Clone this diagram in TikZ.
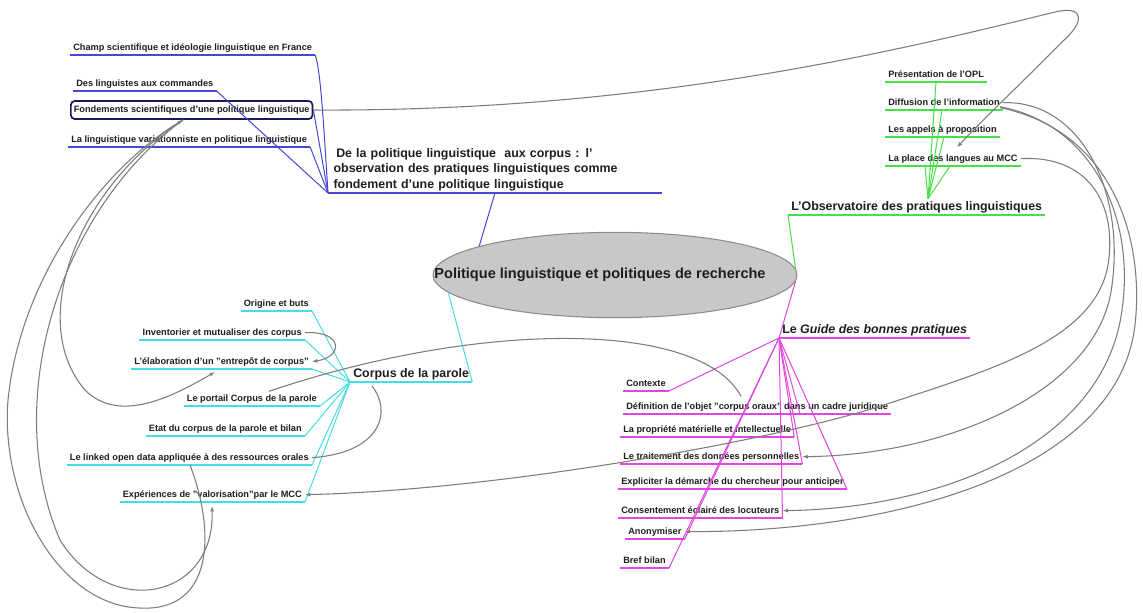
\documentclass[tikz,border=0pt]{standalone}
\usepackage{fontspec}
\setmainfont{Liberation Sans}
\usetikzlibrary{shapes.geometric,arrows.meta,calc}
\definecolor{cblue}{RGB}{70,70,215}
\definecolor{cgreen}{RGB}{70,225,70}
\definecolor{ccyan}{RGB}{70,220,225}
\definecolor{cmag}{RGB}{225,70,225}
\definecolor{clink}{RGB}{125,125,125}
\definecolor{ctxt}{RGB}{30,30,30}
\definecolor{cnavy}{RGB}{25,25,90}
\definecolor{cell}{RGB}{200,200,200}
\definecolor{cellb}{RGB}{140,140,140}
\begin{document}
\begin{tikzpicture}[x=0.75pt,y=-0.75pt,
  sub/.style={font=\fontsize{6.9}{8}\selectfont\bfseries, text=ctxt,
    inner xsep=2.25pt, inner ysep=1.9pt, text height=5.2pt, text depth=1.6pt,
    append after command={(\tikzlastnode.south west) edge[draw=#1, line width=1pt] (\tikzlastnode.south east)}},
  subbox/.style={font=\fontsize{6.9}{8}\selectfont\bfseries, text=ctxt,
    inner xsep=2.25pt, inner ysep=3.4pt, text height=5.2pt, text depth=1.6pt,
    draw=cnavy, line width=1.3pt, rounded corners=3pt},
  topic/.style={font=\fontsize{9.3}{11.6}\selectfont\bfseries, text=ctxt,
    inner xsep=2.25pt, inner ysep=1.4pt, text height=7pt, text depth=2pt,
    append after command={(\tikzlastnode.south west) edge[draw=#1, line width=1pt] (\tikzlastnode.south east)}},
  bline/.style={draw=cblue, line width=0.75pt},
  gline/.style={draw=cgreen, line width=0.75pt},
  cline/.style={draw=ccyan, line width=0.75pt},
  mline/.style={draw=cmag, line width=0.75pt},
  link/.style={draw=clink, line width=0.8pt},
  arr/.style={-{Latex[length=4pt,width=3pt]}},
]
\fill[white] (0,0) rectangle (1143,612);
\useasboundingbox (0,0) rectangle (1143,612);

% central topic
\node[ellipse, fill=cell, draw=cellb, line width=0.8pt, minimum width=273pt, minimum height=64pt,
  inner sep=0pt, font=\fontsize{10.9}{13}\selectfont\bfseries, text=ctxt] (root) at (615,275)
  {\makebox[0pt][c]{\hspace*{-22.5pt}Politique linguistique et politiques de recherche}};

% ---------- blue branch ----------
\node[font=\fontsize{9.3}{11.6}\selectfont\bfseries, text=ctxt, align=left, text width=242pt,
  inner xsep=4pt, inner ysep=1.4pt, anchor=south west,
  append after command={(\tikzlastnode.south west) edge[draw=cblue, line width=1pt] (\tikzlastnode.south east)}]
  (blue1) at (328,193)
  {\hspace*{2pt}De la politique linguistique\ \ aux corpus : l'\\observation des pratiques linguistiques comme\\fondement d'une politique linguistique};
\node[sub=cblue, anchor=south west] (champ) at (70,55) {Champ scientifique et idéologie linguistique en France};
\node[sub=cblue, anchor=south west] (deslin) at (73,91) {Des linguistes aux commandes};
\node[subbox, anchor=west] (fond) at (70,110) {Fondements scientifiques d'une politique linguistique};
\node[sub=cblue, anchor=south west] (varia) at (68,147) {La linguistique variationniste en politique linguistique};
\draw[bline] (root.168) -- (blue1.south);
\draw[bline] (blue1.south west) .. controls +(-5,-80) and +(5,15) .. (champ.south east);
\draw[bline] (blue1.south west) -- (deslin.south east);
\draw[bline] (blue1.south west) -- (fond.east);
\draw[bline] (blue1.south west) -- (varia.south east);

% ---------- green branch ----------
\node[topic=cgreen, anchor=south west] (obs) at (788,215) {L'Observatoire des pratiques linguistiques};
\node[sub=cgreen, anchor=south west] (pres) at (885,82) {Présentation de l'OPL};
\node[sub=cgreen, anchor=south west] (diff) at (885,110) {Diffusion de l'information};
\node[sub=cgreen, anchor=south west] (appels) at (885,137) {Les appels à proposition};
\node[sub=cgreen, anchor=south west] (place) at (885,166) {La place des langues au MCC};
\coordinate (gfan) at ($(obs.north west)+(140,0)$);
\draw[gline] (root.2) -- (obs.south west);
\draw[gline] (gfan) -- ($(pres.south west)+(51,0)$);
\draw[gline] (gfan) -- ($(diff.south west)+(57,0)$);
\draw[gline] (gfan) -- ($(appels.south west)+(59,0)$);
\draw[gline] (gfan) -- ($(place.south west)+(65,0)$);
\draw[gline] (gfan) -- ($(place.south west)+(40,0)$);

% ---------- cyan branch ----------
\node[topic=ccyan, anchor=south west] (corpus) at (350,382) {Corpus de la parole};
\node[sub=ccyan, anchor=south east] (origine) at (312,311) {Origine et buts};
\node[sub=ccyan, anchor=south east] (invent) at (305,340) {Inventorier et mutualiser des corpus};
\node[sub=ccyan, anchor=south east] (elab) at (312,369) {L'élaboration d'un "entrepôt de corpus"};
\node[sub=ccyan, anchor=south east] (portail) at (320,406) {Le portail Corpus de la parole};
\node[sub=ccyan, anchor=south east] (etat) at (305,436) {Etat du corpus de la parole et bilan};
\node[sub=ccyan, anchor=south east] (linked) at (312,465) {Le linked open data appliquée à des ressources orales};
\node[sub=ccyan, anchor=south east] (exper) at (305,502) {Expériences de "valorisation"par le MCC};
\draw[cline] (root.186) -- (corpus.south east);
\foreach \n in {origine,invent,elab,portail,etat,linked,exper}
  \draw[cline] (corpus.south west) -- (\n.south east);

% ---------- magenta branch ----------
\node[topic=cmag, anchor=south west] (guide) at (779,338) {Le \textit{Guide des bonnes pratiques}};
\node[sub=cmag, anchor=south west] (contexte) at (623,391) {Contexte};
\node[sub=cmag, anchor=south west] (defin) at (623,414) {Définition de l'objet "corpus oraux" dans un cadre juridique};
\node[sub=cmag, anchor=south west] (propr) at (620,437) {La propriété matérielle et intellectuelle};
\node[sub=cmag, anchor=south west] (trait) at (620,464) {Le traitement des données personnelles};
\node[sub=cmag, anchor=south west] (expl) at (618,489) {Expliciter la démarche du chercheur pour anticiper};
\node[sub=cmag, anchor=south west] (consent) at (618,518) {Consentement éclairé des locuteurs};
\node[sub=cmag, anchor=south west] (anon) at (625,539) {Anonymiser};
\node[sub=cmag, anchor=south west] (bref) at (620,568) {Bref bilan};
\draw[mline] (root.-2) -- (guide.south west);
\draw[mline] (guide.south west) -- ($(defin.south west)+(177,0)$);
\foreach \n in {contexte,propr,trait,expl,consent,anon,bref}
  \draw[mline] (guide.south west) -- (\n.south east);

% ---------- cross links ----------
\coordinate (fb) at ($(fond.south west)+(113,0)$);
\draw[link, arr] (fond.east) .. controls (650,112) and (900,50) .. (1055,12)
  .. controls (1085,5) and (1085,22) .. (1062,42)
  .. controls (1030,75) and (990,112) .. ($(place.north west)+(72,-4)$);
\draw[link] ($(portail.north)+(17,0)$) .. controls (480,320) and (700,320) .. ($(defin.north)+(-16,-3)$);
\draw[link, arr] (invent.east) .. controls +(38,-2) and +(32,-5) .. (elab.east);
\draw[link] (linked.east) .. controls +(70,-5) and +(20,25) .. ($(corpus.south west)+(22,4)$);
\draw[link, arr] (fb) .. controls (80,185) and (25,320) .. (85,390)
  .. controls (120,425) and (175,395) .. ($(elab.south east)+(-97,3)$);
\draw[link, arr] (fb) .. controls (60,210) and (0,400) .. (60,540)
  .. controls (110,620) and (215,600) .. ($(exper.south east)+(-93,4)$);
\draw[link, arr] ($(linked.south east)+(-122,0)$) .. controls (215,530) and (215,612) .. (140,608)
  .. controls (60,606) and (0,500) .. (8,400)
  .. controls (20,280) and (100,170) .. (fb);
\draw[link, arr] (place.east) .. controls (1085,155) and (1118,200) .. (1108,265)
  .. controls (1095,340) and (990,370) .. (890,403)
  .. controls (780,440) and (500,490) .. (exper.east);
\draw[link, arr] (diff.east) .. controls (1080,100) and (1125,190) .. (1112,285)
  .. controls (1100,390) and (950,455) .. (trait.east);
\draw[link, arr] ($(diff.east)+(-3,4)$) .. controls (1095,125) and (1135,220) .. (1122,310)
  .. controls (1105,440) and (950,508) .. (consent.east);
\draw[link, arr] ($(diff.east)+(-3,5)$) .. controls (1110,130) and (1145,235) .. (1135,325)
  .. controls (1118,470) and (900,532) .. (anon.east);
\end{tikzpicture}
\end{document}
